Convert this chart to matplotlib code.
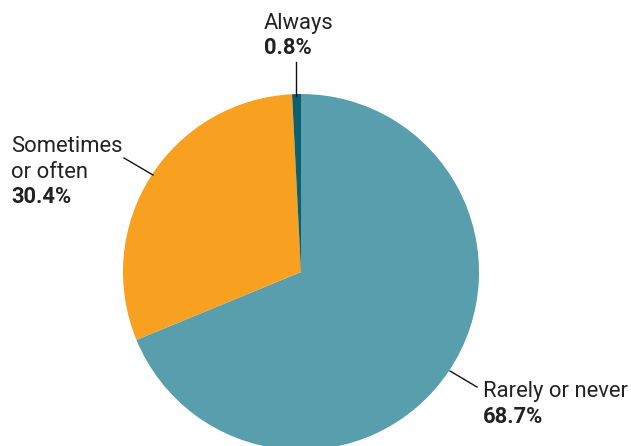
import matplotlib
matplotlib.use("Agg")
import matplotlib.pyplot as plt

categories = ["Rarely or never", "Sometimes\nor often", "Always"]
values = [68.7, 30.4, 0.8]
value_labels = ["68.7%", "30.4%", "0.8%"]
colors = ["#599eac", "#f8a020", "#0b5f6e"]

W, H = 631, 446
fig = plt.figure(figsize=(W / 100, H / 100), dpi=100)
ax = fig.add_axes([0, 0, 1, 1])

cx, cy, r = 301, H - 272, 178
ax.pie(values, colors=colors, startangle=90, counterclock=False,
       center=(cx, cy), radius=r, wedgeprops=dict(linewidth=0))
ax.set_aspect("equal")
ax.set_xlim(0, W)
ax.set_ylim(0, H)
ax.axis("off")

txt = "#222222"
fs = 15.8
fam = ["Roboto", "DejaVu Sans"]

def Y(py):
    return H - py

# Always
ax.plot([296, 296], [Y(62), Y(96)], color="#111111", lw=1)
ax.text(264, Y(29), categories[2], fontsize=fs, color=txt, family=fam, va="baseline", ha="left")
ax.text(264, Y(54), value_labels[2], fontsize=fs, color=txt, family=fam, weight="bold", va="baseline", ha="left")

# Sometimes or often
ax.plot([124, 153], [Y(158), Y(175)], color="#111111", lw=1)
l1, l2 = categories[1].split("\n")
ax.text(11, Y(152), l1, fontsize=fs, color=txt, family=fam, va="baseline", ha="left")
ax.text(11, Y(178), l2, fontsize=fs, color=txt, family=fam, va="baseline", ha="left")
ax.text(11, Y(203), value_labels[1], fontsize=fs, color=txt, family=fam, weight="bold", va="baseline", ha="left")

# Rarely or never
ax.plot([450, 477], [Y(371), Y(387)], color="#111111", lw=1)
ax.text(483, Y(397), categories[0], fontsize=fs, color=txt, family=fam, va="baseline", ha="left")
ax.text(483, Y(423), value_labels[0], fontsize=fs, color=txt, family=fam, weight="bold", va="baseline", ha="left")

fig.savefig("out.png", dpi=100)
